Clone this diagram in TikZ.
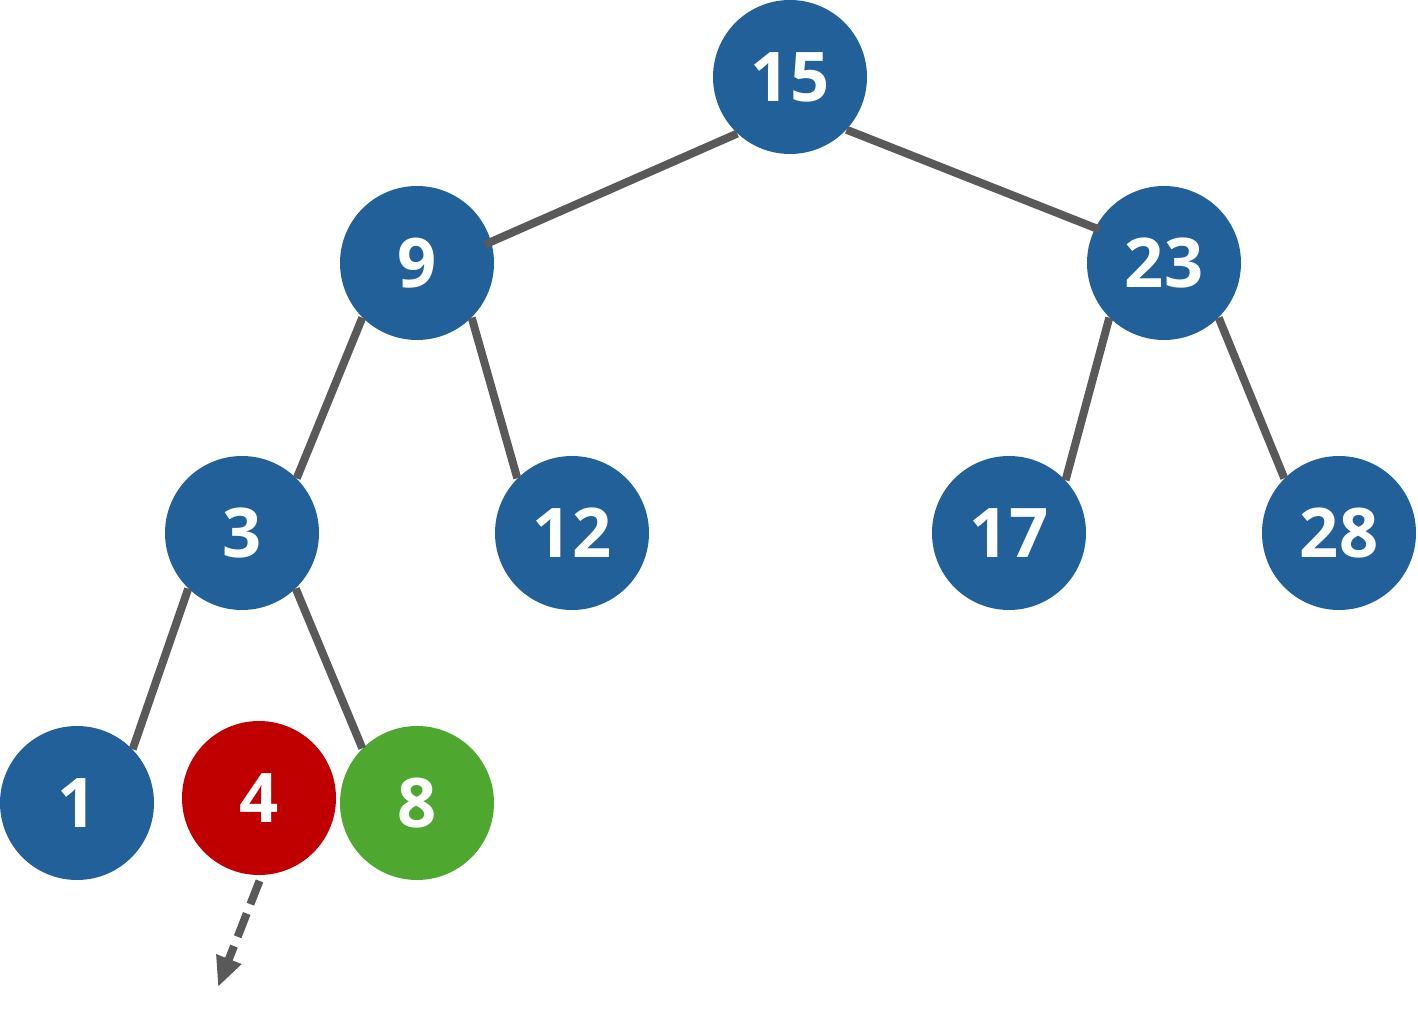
\documentclass[tikz,border=0pt]{standalone}
\usepackage{fontspec}
\setsansfont{Open Sans}
\usetikzlibrary{arrows.meta}
\definecolor{treeblue}{RGB}{34,96,154}
\definecolor{treered}{RGB}{192,0,0}
\definecolor{treegreen}{RGB}{78,167,46}
\definecolor{edgegray}{RGB}{89,89,89}
\begin{document}
\begin{tikzpicture}[
                treenode/.style={
                    circle,
                    fill=treeblue,
                    draw=none,
                    minimum size=3.08cm,
                    inner sep=0pt,
                    text=white,
                    font=\sffamily\bfseries\fontsize{39}{39}\selectfont
                },
                removednode/.style={
                    treenode,
                    fill=treered
                },
                movednode/.style={
                    treenode,
                    fill=treegreen
                },
                edge/.style={
                    draw=edgegray,
                    line width=0.16cm
                },
                arrow/.style={
                    edge,
                    dash pattern=on 0.5cm off 0.2cm,
                    -{Triangle[length=0.6cm,width=0.5cm]}
                }
            ]
                \useasboundingbox (0,0) rectangle (28.36,-20.3);

                \node[treenode] (n15) at (15.8,-1.54)  {15};
                \node[treenode] (n9)  at (8.34,-5.26)  {9};
                \node[treenode] (n23) at (23.28,-5.26) {23};
                \node[treenode] (n3)  at (4.84,-10.66) {3};
                \node[treenode] (n12) at (11.44,-10.66) {12};
                \node[treenode] (n17) at (20.18,-10.66) {17};
                \node[treenode] (n28) at (26.78,-10.66) {28};
                \node[treenode] (n1)  at (1.54,-16.06) {1};
                \node[removednode] (n4) at (5.18,-15.96) {4};
                \node[movednode] (n8) at (8.34,-16.06) {8};
                \coordinate (lost) at (4.36,-19.74);

                \draw[edge, shorten >=-0.14cm] (n15.227) -- (n9.16);
                \draw[edge, shorten >=-0.1cm] (n15.317) -- (n23.153);
                \draw[edge] (n9.225) -- (n3.45);
                \draw[edge] (n9.315) -- (n12.135);
                \draw[edge] (n23.225) -- (n17.43);
                \draw[edge] (n23.315) -- (n28.135);
                \draw[edge] (n3.226) -- (n1.44);
                \draw[edge] (n3.314) -- (n8.135);
                \draw[arrow, shorten <=0.12cm] (n4.272) -- (lost);
        \end{tikzpicture}
\end{document}
